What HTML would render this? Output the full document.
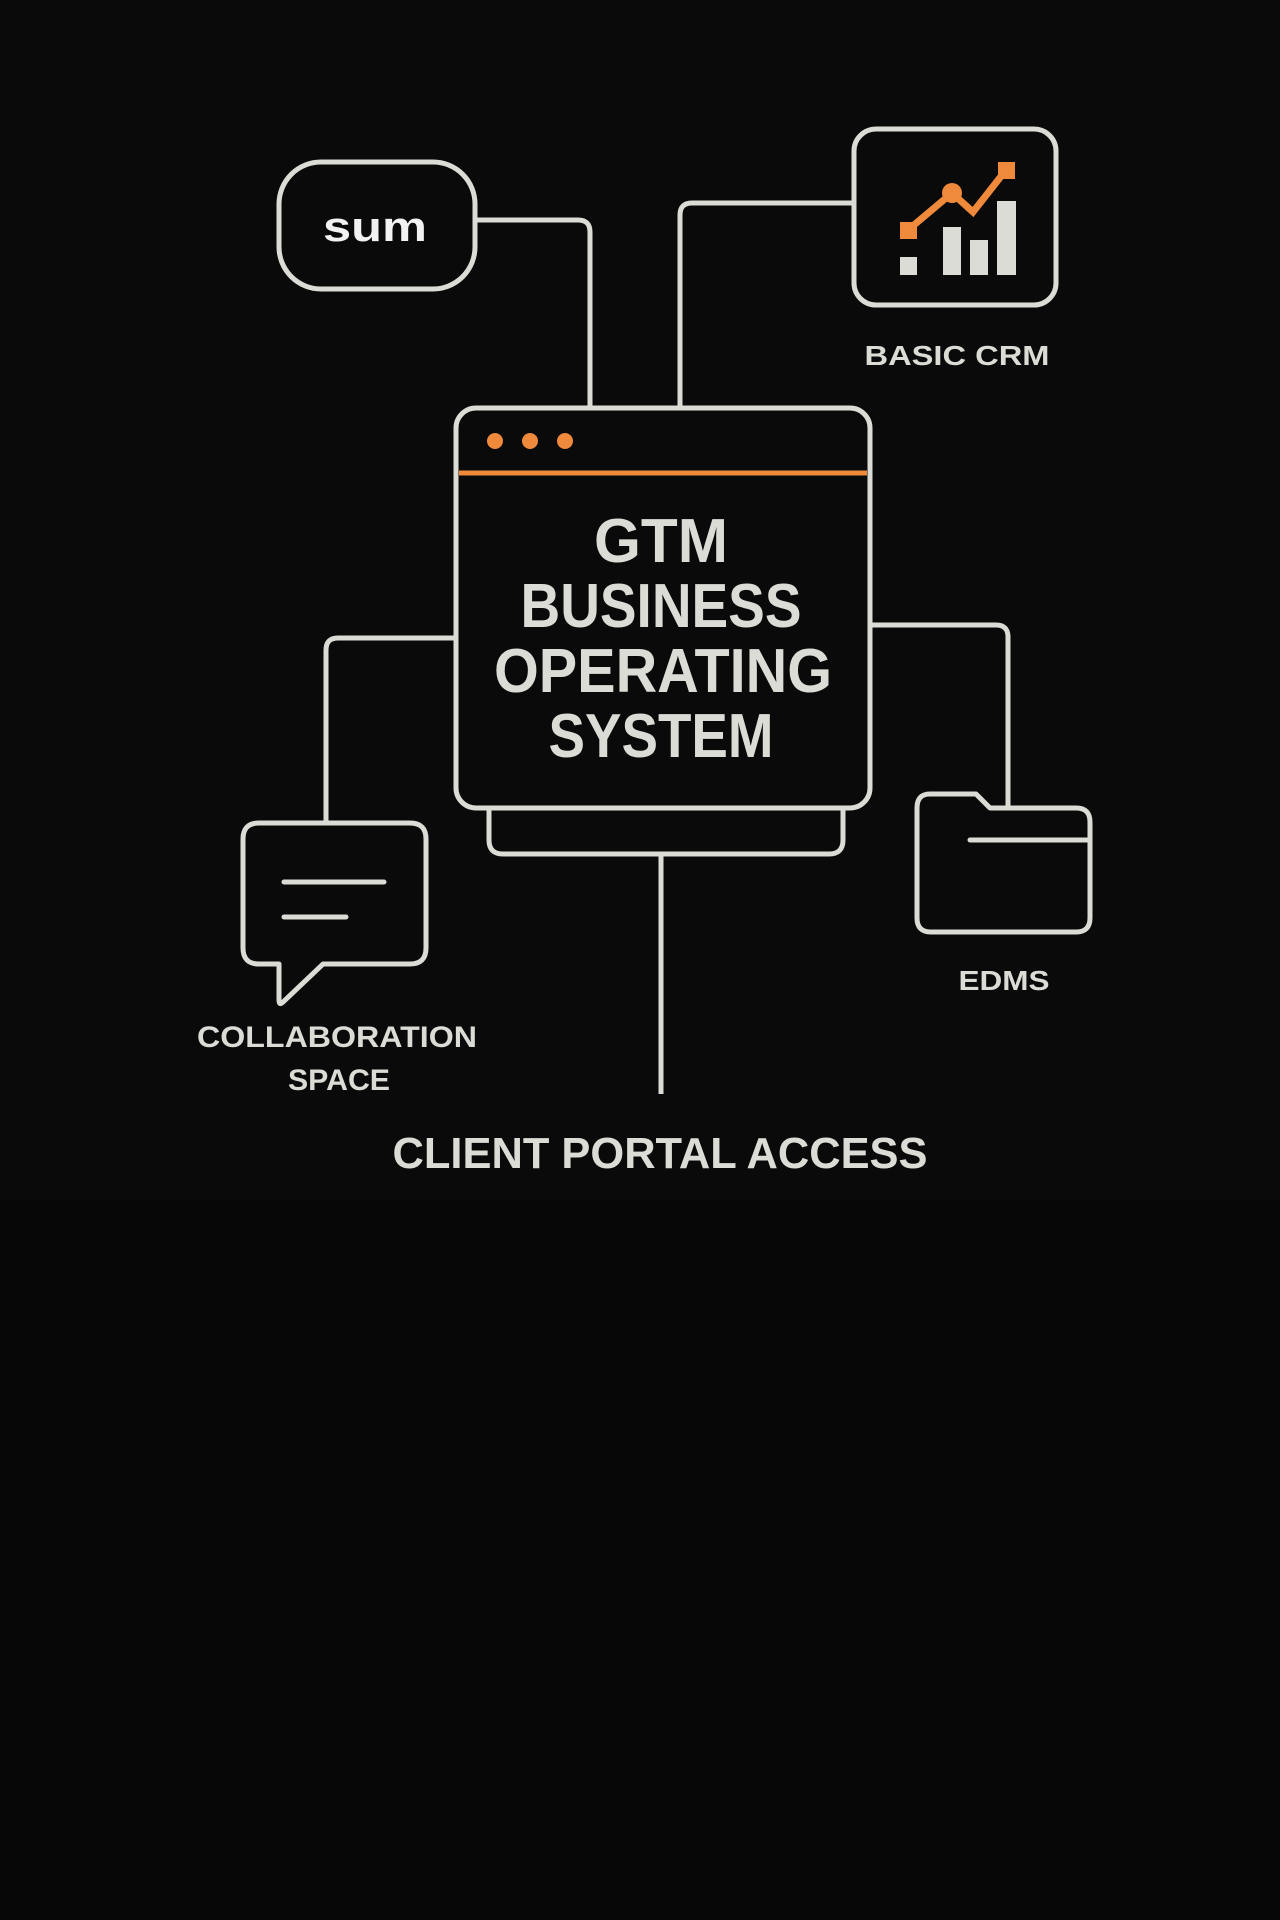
<!DOCTYPE html>
<html><head><meta charset="utf-8"><style>
html,body{margin:0;padding:0;background:#0a0a0a;}
svg{display:block;}
text{font-family:"Liberation Sans",sans-serif;font-weight:bold;fill:#dcdcd6;}
</style></head><body>
<svg width="1280" height="1920" viewBox="0 0 1280 1920" xmlns="http://www.w3.org/2000/svg">
<rect width="1280" height="1920" fill="#0a0a0a"/>
<rect y="1200" width="1280" height="720" fill="#070707"/>
<g fill="none" stroke="#dcdcd6" stroke-width="5" stroke-linejoin="round">
  <!-- connectors -->
  <path d="M475 220 H578 Q590 220 590 232 V408"/>
  <path d="M854 203 H692 Q680 203 680 215 V408"/>
  <path d="M456 638 H338 Q326 638 326 650 V823"/>
  <path d="M870 625 H996 Q1008 625 1008 637 V808"/>
  <path d="M661 854 V1094"/>
  <!-- sum box -->
  <rect x="279" y="162" width="196" height="127" rx="42"/>
  <!-- CRM box -->
  <rect x="854" y="129" width="202" height="176" rx="22"/>
  <!-- main window -->
  <rect x="456" y="408" width="414" height="400" rx="20"/>
  <!-- base -->
  <path d="M489 808 V840 Q489 854 503 854 H829 Q843 854 843 840 V808"/>
  <!-- chat bubble -->
  <path d="M260 823 H410 Q426 823 426 839 V948 Q426 964 410 964 H323 L283 1002 Q279 1006 279 1000 V964 H259 Q243 964 243 948 V839 Q243 823 259 823 Z"/>
  <!-- folder -->
  <path d="M930 794 H976 L990 808 H1076 Q1090 808 1090 822 V918 Q1090 932 1076 932 H931 Q917 932 917 918 V808 Q917 794 930 794 Z"/>
</g>
<g stroke="#dcdcd6" stroke-width="5" stroke-linecap="round">
  <line x1="284" y1="882" x2="384" y2="882"/>
  <line x1="284" y1="917" x2="346" y2="917"/>
  <line x1="970" y1="840" x2="1088" y2="840"/>
</g>
<!-- window header -->
<line x1="459" y1="473" x2="867" y2="473" stroke="#ef8a3c" stroke-width="5"/>
<g fill="#ef8a3c">
  <circle cx="495" cy="441" r="8"/>
  <circle cx="530" cy="441" r="8"/>
  <circle cx="565" cy="441" r="8"/>
</g>
<!-- chart -->
<g fill="#dcdcd6">
  <rect x="900" y="257" width="17" height="18"/>
  <rect x="943" y="227" width="18" height="48"/>
  <rect x="970" y="240" width="18" height="35"/>
  <rect x="997" y="201" width="19" height="74"/>
</g>
<polyline points="908,230 952,193 973,212 1006,170" fill="none" stroke="#ef8a3c" stroke-width="7"/>
<g fill="#ef8a3c">
  <rect x="900" y="222" width="17" height="17"/>
  <rect x="998" y="162" width="17" height="17"/>
  <circle cx="952" cy="193" r="10"/>
</g>
<!-- labels -->
<text x="375" y="241" text-anchor="middle" font-size="42" fill="#f2f2f2" style="fill:#f2f2f2" textLength="104" lengthAdjust="spacingAndGlyphs">sum</text>
<text x="957" y="365" text-anchor="middle" font-size="28" textLength="185" lengthAdjust="spacingAndGlyphs">BASIC CRM</text>
<text x="661" y="562" text-anchor="middle" font-size="62" textLength="134" lengthAdjust="spacingAndGlyphs">GTM</text>
<text x="661" y="627" text-anchor="middle" font-size="62" textLength="281" lengthAdjust="spacingAndGlyphs">BUSINESS</text>
<text x="663" y="692" text-anchor="middle" font-size="62" textLength="338" lengthAdjust="spacingAndGlyphs">OPERATING</text>
<text x="661" y="757" text-anchor="middle" font-size="62" textLength="225" lengthAdjust="spacingAndGlyphs">SYSTEM</text>
<text x="337" y="1047" text-anchor="middle" font-size="30" textLength="280" lengthAdjust="spacingAndGlyphs">COLLABORATION</text>
<text x="339" y="1090" text-anchor="middle" font-size="30" textLength="102" lengthAdjust="spacingAndGlyphs">SPACE</text>
<text x="1004" y="990" text-anchor="middle" font-size="28" textLength="91" lengthAdjust="spacingAndGlyphs">EDMS</text>
<text x="660" y="1168" text-anchor="middle" font-size="44" textLength="535" lengthAdjust="spacingAndGlyphs">CLIENT PORTAL ACCESS</text>
</svg>
</body></html>
